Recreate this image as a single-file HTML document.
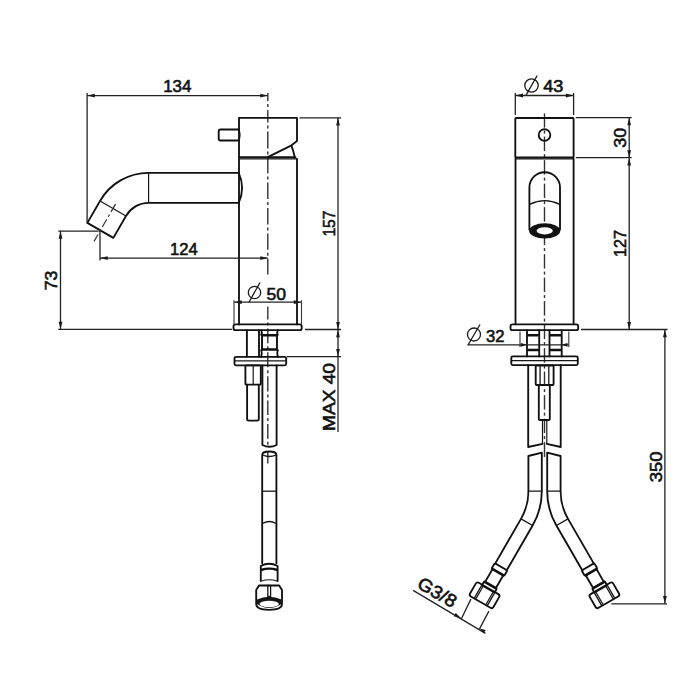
<!DOCTYPE html>
<html><head><meta charset="utf-8"><style>
html,body{margin:0;padding:0;background:#fff;width:700px;height:700px;overflow:hidden}
svg{display:block}
.o{fill:none;stroke:#111;stroke-width:1.85;stroke-linejoin:round;stroke-linecap:round}
.o2{fill:none;stroke:#161616;stroke-width:1.2}
.o3{fill:none;stroke:#161616;stroke-width:1.3}
.band{fill:none;stroke:#111;stroke-width:2.4}
.d{fill:none;stroke:#222;stroke-width:1.3}
.cs{fill:none;stroke:#333;stroke-width:1.4}
.d2{fill:none;stroke:#333;stroke-width:1.1}
.dt{fill:none;stroke:#1a1a1a;stroke-width:1.3}
.c{fill:none;stroke:#3a3a3a;stroke-width:1.3;stroke-dasharray:14 4 3.5 4}
.c2{fill:none;stroke:#333;stroke-width:1.2;stroke-dasharray:9 3 2.5 3}
.a{fill:#1a1a1a;stroke:none}
text{font-family:"Liberation Sans",sans-serif;fill:#111;stroke:#111;stroke-width:0.6}
</style></head><body>
<svg width="700" height="700" viewBox="0 0 700 700">
<rect width="700" height="700" fill="#fff"/>
<line class="cs" x1="267.8" y1="93" x2="267.8" y2="101"/>
<line class="cs" x1="267.8" y1="104" x2="267.8" y2="107"/>
<line class="cs" x1="267.8" y1="110" x2="267.8" y2="122.5"/>
<line class="cs" x1="267.8" y1="125.5" x2="267.8" y2="128.5"/>
<line class="cs" x1="267.8" y1="131.5" x2="267.8" y2="148.4"/>
<line class="cs" x1="267.8" y1="151.4" x2="267.8" y2="154.4"/>
<line class="cs" x1="267.8" y1="157.4" x2="267.8" y2="173.4"/>
<line class="cs" x1="267.8" y1="176.4" x2="267.8" y2="179.4"/>
<line class="cs" x1="267.8" y1="182.4" x2="267.8" y2="198.9"/>
<line class="cs" x1="267.8" y1="201.9" x2="267.8" y2="204.9"/>
<line class="cs" x1="267.8" y1="207.9" x2="267.8" y2="224.6"/>
<line class="cs" x1="267.8" y1="227.6" x2="267.8" y2="230.6"/>
<line class="cs" x1="267.8" y1="233.6" x2="267.8" y2="249.7"/>
<line class="cs" x1="267.8" y1="252.7" x2="267.8" y2="255.7"/>
<line class="cs" x1="267.8" y1="258.7" x2="267.8" y2="274.4"/>
<line class="cs" x1="267.8" y1="306.4" x2="267.8" y2="319.4"/>
<line class="cs" x1="267.8" y1="322.4" x2="267.8" y2="325.4"/>
<line class="cs" x1="267.8" y1="328.4" x2="267.8" y2="343.3"/>
<line class="cs" x1="267.8" y1="346.3" x2="267.8" y2="349.3"/>
<line class="cs" x1="267.8" y1="352.3" x2="267.8" y2="367.2"/>
<line class="cs" x1="267.8" y1="370.2" x2="267.8" y2="373.2"/>
<line class="cs" x1="267.8" y1="376.2" x2="267.8" y2="391.6"/>
<line class="cs" x1="267.8" y1="394.6" x2="267.8" y2="397.6"/>
<line class="cs" x1="267.8" y1="400.6" x2="267.8" y2="415"/>
<line class="cs" x1="267.8" y1="418" x2="267.8" y2="421"/>
<line class="cs" x1="267.8" y1="424" x2="267.8" y2="438.7"/>
<line class="cs" x1="267.8" y1="441.7" x2="267.8" y2="444.7"/>
<line class="cs" x1="267.8" y1="452" x2="267.8" y2="463.5"/>
<path class="o" d="M239,157.5 V117.8 H297 V141 L291.5,145.3 L267.8,157.2"/>
<path class="o" d="M291.5,145.8 Q293.5,151 294.8,157.5"/>
<path class="o" d="M239,157.2 H295.5"/>
<line class="o2" x1="239" y1="158.9" x2="297" y2="158.9"/>
<path class="o" d="M239,158.8 V324.4"/>
<path class="o" d="M297,158.8 V324.4"/>
<path class="o" d="M239,129.5 H220.5 Q218.7,129.5 218.7,131.3 V138.7 Q218.7,140.5 220.5,140.5 H239"/>
<path class="o2" d="M239,129.8 Q241,135 239,140.2"/>
<path class="o" d="M238.7,172.9 H148.6 A56.1,56.1 0 0 0 100.02,200.95 L87.37,222.86 L113.35,237.86 L126,215.95 A26.1,26.1 0 0 1 148.6,202.9 H238.7"/>
<path class="o" d="M238.7,172.9 Q245.5,187.9 238.7,202.9"/>
<line class="o2" x1="148.6" y1="172.9" x2="148.6" y2="202.9"/>
<line class="o2" x1="100.02" y1="200.95" x2="126" y2="215.95"/>
<line class="c2" x1="115.51" y1="204.12" x2="94.01" y2="241.36"/>
<rect class="o" x="233.5" y="324.4" width="68.2" height="5.8" rx="2"/>
<path class="o" d="M261.2,330.2 Q262.4,332.5 261.2,335 M277.8,330.2 Q276.6,332.5 277.8,335 M261.2,350 Q262.4,353 261.2,356.8 M277.8,350 Q276.6,353 277.8,356.8 M262,335 V350 M277,335 V350"/>
<path class="band" d="M261.8,335.2 H277 M261.8,349.5 H277"/>
<path class="o2" d="M262.2,336.2 V348.5 M276.6,336.2 V348.5"/>
<path class="o" d="M246.9,330.2 V356.8 M259,330.2 V356.8"/>
<rect class="o" x="234.5" y="356.8" width="51.7" height="8.5" rx="1.5"/>
<line class="o3" x1="235" y1="360.8" x2="285.7" y2="360.8"/>
<rect class="o" x="245.4" y="365.3" width="15.4" height="19.4" rx="1"/>
<line class="o2" x1="253.2" y1="365.3" x2="253.2" y2="384.7"/>
<path class="o" d="M247.1,384.7 V419 Q247.1,420.6 249,420.6 H257 Q258.8,420.6 258.8,419 V384.7"/>
<path class="o" d="M262.4,365.3 V445 Q269.5,448.5 276.6,445 V365.3"/>
<path class="o" d="M262.2,563.5 V455 Q262.2,451.5 269.3,451.5 Q276.4,451.5 276.4,455 V563.5"/>
<path class="o3" d="M262.5,455 Q269.3,458 276.1,455"/>
<line class="o3" x1="262.2" y1="491.2" x2="276.4" y2="491.2"/>
<path class="o3" d="M262.5,523.5 Q269.3,519.5 276.1,523.5"/>
<path class="o" d="M260.8,581 V566 Q269.2,561.5 277.6,566 V581"/>
<path class="band" d="M261,570 Q269.2,567.2 277.4,570"/>
<path class="o2" d="M261.3,581 Q269.2,578.5 277.1,581"/>
<path class="o" d="M256.2,590 L259,585.5 H279.2 L282,590 V604 Q282,609.8 269.1,609.8 Q256.2,609.8 256.2,604 Z"/>
<path d="M257,599.5 Q269.2,594.2 281.4,599.5 L281.4,604 Q269.2,612 257,604 Z" fill="#151515"/>
<ellipse cx="269.2" cy="604" rx="9.7" ry="3.3" fill="#fff"/>
<rect class="o3" x="267.8" y="585.5" width="2.8" height="11" rx="0"/>
<line class="d" x1="87.1" y1="93" x2="87.1" y2="222.9"/>
<line class="d" x1="87.1" y1="95.6" x2="267.8" y2="95.6"/>
<path class="a" d="M87.3,95.6 L94.8,93.7 L94.8,97.5 Z"/>
<path class="a" d="M267.8,95.6 L260.3,97.5 L260.3,93.7 Z"/>
<text x="177.3" y="92.2" font-size="17" text-anchor="middle" textLength="28.3" lengthAdjust="spacingAndGlyphs">134</text>
<line class="d" x1="100" y1="231" x2="100" y2="260.5"/>
<line class="d" x1="100" y1="258.1" x2="267.8" y2="258.1"/>
<path class="a" d="M100.2,258.1 L107.7,256.2 L107.7,260 Z"/>
<path class="a" d="M267.8,258.1 L260.3,260 L260.3,256.2 Z"/>
<text x="183.9" y="255" font-size="17" text-anchor="middle" textLength="27.6" lengthAdjust="spacingAndGlyphs">124</text>
<line class="d" x1="58.3" y1="231.1" x2="98.6" y2="231.1"/>
<line class="d" x1="58.3" y1="329.4" x2="232" y2="329.4"/>
<line class="d" x1="60.5" y1="231.1" x2="60.5" y2="329.4"/>
<path class="a" d="M60.5,231.3 L62.4,238.8 L58.6,238.8 Z"/>
<path class="a" d="M60.5,329.2 L58.6,321.7 L62.4,321.7 Z"/>
<text x="57.1" y="280.5" font-size="17" text-anchor="middle" textLength="19.7" lengthAdjust="spacingAndGlyphs" transform="rotate(-90 57.1 280.5)">73</text>
<line class="d" x1="299.5" y1="117.8" x2="341" y2="117.8"/>
<line class="d" x1="305" y1="329.5" x2="341" y2="329.5"/>
<line class="d" x1="338" y1="117.8" x2="338" y2="432"/>
<path class="a" d="M338,118 L339.9,125.5 L336.1,125.5 Z"/>
<path class="a" d="M338,329.5 L336.1,322 L339.9,322 Z"/>
<text x="334.7" y="223.6" font-size="17" text-anchor="middle" textLength="26" lengthAdjust="spacingAndGlyphs" transform="rotate(-90 334.7 223.6)">157</text>
<line class="d" x1="287" y1="356.6" x2="341" y2="356.6"/>
<path class="a" d="M338,329.7 L339.9,337.2 L336.1,337.2 Z"/>
<path class="a" d="M338,356.6 L336.1,349.1 L339.9,349.1 Z"/>
<text x="335" y="397" font-size="17" text-anchor="middle" textLength="68" lengthAdjust="spacingAndGlyphs" transform="rotate(-90 335 397)">MAX 40</text>
<line class="d" x1="234" y1="302.2" x2="301.5" y2="302.2"/>
<line class="d2" x1="234" y1="300.3" x2="234" y2="324"/>
<line class="d2" x1="301.5" y1="300.3" x2="301.5" y2="324"/>
<path class="a" d="M234.2,302.2 L241.7,300.3 L241.7,304.1 Z"/>
<path class="a" d="M301.3,302.2 L293.8,304.1 L293.8,300.3 Z"/>
<circle class="dt" cx="254.5" cy="292.5" r="6.2"/>
<line class="dt" x1="249" y1="302.2" x2="260" y2="282.5"/>
<text x="266.5" y="299.5" font-size="17" text-anchor="start" textLength="19.5" lengthAdjust="spacingAndGlyphs">50</text>
<line class="cs" x1="544.5" y1="113.4" x2="544.5" y2="127.6"/>
<line class="cs" x1="544.5" y1="130.6" x2="544.5" y2="133.6"/>
<line class="cs" x1="544.5" y1="136.6" x2="544.5" y2="151.1"/>
<line class="cs" x1="544.5" y1="154.1" x2="544.5" y2="157.1"/>
<line class="cs" x1="544.5" y1="160.1" x2="544.5" y2="174.6"/>
<line class="cs" x1="544.5" y1="177.6" x2="544.5" y2="180.6"/>
<line class="cs" x1="544.5" y1="183.6" x2="544.5" y2="198.1"/>
<line class="cs" x1="544.5" y1="201.1" x2="544.5" y2="204.1"/>
<line class="cs" x1="544.5" y1="207.1" x2="544.5" y2="221.6"/>
<line class="cs" x1="544.5" y1="224.6" x2="544.5" y2="227.6"/>
<line class="cs" x1="544.5" y1="230.6" x2="544.5" y2="245.1"/>
<line class="cs" x1="544.5" y1="248.1" x2="544.5" y2="251.1"/>
<line class="cs" x1="544.5" y1="254.1" x2="544.5" y2="268.6"/>
<line class="cs" x1="544.5" y1="271.6" x2="544.5" y2="274.6"/>
<line class="cs" x1="544.5" y1="277.6" x2="544.5" y2="292.1"/>
<line class="cs" x1="544.5" y1="295.1" x2="544.5" y2="298.1"/>
<line class="cs" x1="544.5" y1="301.1" x2="544.5" y2="315.6"/>
<line class="cs" x1="544.5" y1="318.6" x2="544.5" y2="321.6"/>
<line class="cs" x1="544.5" y1="324.6" x2="544.5" y2="339.1"/>
<line class="cs" x1="544.5" y1="342.1" x2="544.5" y2="345.1"/>
<line class="cs" x1="544.5" y1="348.1" x2="544.5" y2="362.6"/>
<line class="cs" x1="544.5" y1="365.6" x2="544.5" y2="368.6"/>
<line class="cs" x1="544.5" y1="371.6" x2="544.5" y2="386.1"/>
<line class="cs" x1="544.5" y1="389.1" x2="544.5" y2="392.1"/>
<line class="cs" x1="544.5" y1="395.1" x2="544.5" y2="409.6"/>
<line class="cs" x1="544.5" y1="412.6" x2="544.5" y2="415.6"/>
<line class="cs" x1="544.5" y1="418.6" x2="544.5" y2="433.1"/>
<line class="cs" x1="544.5" y1="436.1" x2="544.5" y2="439.1"/>
<line class="cs" x1="544.5" y1="442.1" x2="544.5" y2="457"/>
<rect class="o" x="515.3" y="118" width="58.3" height="39.5" rx="0.8"/>
<circle class="o" cx="544.5" cy="135" r="5.8"/>
<line class="o2" x1="515.5" y1="158.8" x2="573.6" y2="158.8"/>
<path class="o" d="M515.5,158.7 V324.3 M573.6,158.7 V324.3"/>
<path class="o" d="M529.4,229.5 V187.5 A15.3,15.3 0 0 1 560,187.5 V229.5"/>
<path class="o3" d="M529.6,204.4 Q544.7,197 559.8,204.4"/>
<ellipse cx="544.7" cy="230.8" rx="15.6" ry="7.6" fill="#111"/>
<ellipse cx="544.7" cy="230.8" rx="8.1" ry="3.6" fill="#fff"/>
<rect class="o" x="510.5" y="324.3" width="67.7" height="5.9" rx="2"/>
<path class="o" d="M527,330.2 V356.4 M539.2,330.2 V356.4 M549.5,330.2 V356.4 M561.7,330.2 V356.4"/>
<path class="band" d="M527.3,335.3 H538.9 M549.8,335.3 H561.4 M527.3,350 H538.9 M549.8,350 H561.4"/>
<rect class="o" x="511.3" y="356.4" width="66.5" height="8.7" rx="1.5"/>
<line class="o3" x1="512" y1="360.6" x2="577.2" y2="360.6"/>
<rect class="o" x="535.7" y="365.5" width="17.9" height="19.5" rx="1"/>
<line class="o3" x1="540.1" y1="365.5" x2="540.1" y2="385"/>
<line class="o3" x1="548.8" y1="365.5" x2="548.8" y2="385"/>
<rect class="o" x="538.8" y="385" width="11" height="35" rx="1"/>
<line class="o2" x1="542.5" y1="420" x2="542.5" y2="444"/>
<line class="o2" x1="546.8" y1="420" x2="546.8" y2="444"/>
<path class="o" d="M528.2,365.1 V447 L542.5,443.8"/>
<path class="o" d="M560.7,365.1 V447 L546.8,443.8"/>
<path class="o" d="M528.4,456 V491.2 A55.3,55.3 0 0 1 520.99,518.85 L494.99,563.88 M541.8,452.6 V491.2 A68.7,68.7 0 0 1 532.6,525.55 L506.6,570.58 M528.4,456 L541.8,452.6"/>
<path class="o3" d="M528.4,491.2 H541.8 M520.99,518.85 L532.6,525.55"/>
<path class="o" d="M560.6,456 V491.2 A55.3,55.3 0 0 0 568.01,518.85 L594.01,563.88 M547.2,452.6 V491.2 A68.7,68.7 0 0 0 556.4,525.55 L582.4,570.58 M560.6,456 L547.2,452.6"/>
<path class="o3" d="M560.6,491.2 H547.2 M568.01,518.85 L556.4,525.55"/>
<g transform="translate(500.79 567.23) rotate(30)"><rect class="o" x="-7.3" y="-0.5" width="14.6" height="6.5" rx="1.5"/><path class="band" d="M-7,5.6 H7 M-7,20.9 H7"/><path class="o" d="M-6.2,6 V20.5 M6.2,6 V20.5"/><rect class="o" x="-7.3" y="20.3" width="14.6" height="4.7" rx="1.2"/><rect class="o" x="-13.5" y="24.5" width="27" height="15.8" rx="2.2"/><path class="o3" d="M-7.5,25 V40 M-5.8,25 V40 M5.8,25 V40 M7.5,25 V40"/></g>
<g transform="translate(588.21 567.23) rotate(-30)"><rect class="o" x="-7.3" y="-0.5" width="14.6" height="6.5" rx="1.5"/><path class="band" d="M-7,5.6 H7 M-7,20.9 H7"/><path class="o" d="M-6.2,6 V20.5 M6.2,6 V20.5"/><rect class="o" x="-7.3" y="20.3" width="14.6" height="4.7" rx="1.2"/><rect class="o" x="-13.5" y="24.5" width="27" height="15.8" rx="2.2"/><path class="o3" d="M-7.5,25 V40 M-5.8,25 V40 M5.8,25 V40 M7.5,25 V40"/></g>
<line class="d" x1="515.3" y1="93" x2="515.3" y2="115"/>
<line class="d" x1="573.6" y1="93" x2="573.6" y2="115"/>
<line class="d" x1="515.3" y1="95.5" x2="573.6" y2="95.5"/>
<path class="a" d="M515.5,95.5 L523,93.6 L523,97.4 Z"/>
<path class="a" d="M573.4,95.5 L565.9,97.4 L565.9,93.6 Z"/>
<circle class="dt" cx="531.5" cy="85.5" r="6.7"/>
<line class="dt" x1="526.2" y1="94.9" x2="537.2" y2="75.5"/>
<text x="543.2" y="91.9" font-size="17" text-anchor="start" textLength="20.1" lengthAdjust="spacingAndGlyphs">43</text>
<line class="d" x1="575.8" y1="117.6" x2="631.7" y2="117.6"/>
<line class="d" x1="575.8" y1="157.7" x2="631.7" y2="157.7"/>
<line class="d" x1="629.2" y1="117.6" x2="629.2" y2="329.6"/>
<path class="a" d="M629.2,117.8 L631.1,125.3 L627.3,125.3 Z"/>
<path class="a" d="M629.2,157.7 L627.3,150.2 L631.1,150.2 Z"/>
<path class="a" d="M629.2,157.9 L631.1,165.4 L627.3,165.4 Z"/>
<path class="a" d="M629.2,329.4 L627.3,321.9 L631.1,321.9 Z"/>
<text x="626.2" y="137.7" font-size="17" text-anchor="middle" textLength="20" lengthAdjust="spacingAndGlyphs" transform="rotate(-90 626.2 137.7)">30</text>
<text x="626.4" y="243.6" font-size="17" text-anchor="middle" textLength="27" lengthAdjust="spacingAndGlyphs" transform="rotate(-90 626.4 243.6)">127</text>
<line class="d" x1="581" y1="329.5" x2="667.5" y2="329.5"/>
<line class="d" x1="611.4" y1="603.8" x2="667" y2="603.8"/>
<line class="d" x1="664.9" y1="329.5" x2="664.9" y2="603.8"/>
<path class="a" d="M664.9,329.7 L666.8,337.2 L663,337.2 Z"/>
<path class="a" d="M664.9,603.6 L663,596.1 L666.8,596.1 Z"/>
<text x="662.1" y="466.8" font-size="17" text-anchor="middle" textLength="30.9" lengthAdjust="spacingAndGlyphs" transform="rotate(-90 662.1 466.8)">350</text>
<line class="d" x1="467.5" y1="344.8" x2="568.8" y2="344.8"/>
<line class="d2" x1="520" y1="331.5" x2="520" y2="347"/>
<line class="d2" x1="568.8" y1="331.5" x2="568.8" y2="347"/>
<path class="a" d="M526.8,344.8 L520.8,346.7 L520.8,342.9 Z"/>
<path class="a" d="M561.5,344.8 L567.5,342.9 L567.5,346.7 Z"/>
<circle class="dt" cx="474" cy="334.5" r="6.5"/>
<line class="dt" x1="468" y1="345" x2="480" y2="324.5"/>
<text x="486" y="342" font-size="17" text-anchor="start" textLength="18.5" lengthAdjust="spacingAndGlyphs">32</text>
<line class="d" x1="413.1" y1="590.4" x2="485.4" y2="633.4"/>
<line class="d" x1="470.9" y1="599.1" x2="461.4" y2="618.8"/>
<line class="d" x1="488.9" y1="611.1" x2="479.4" y2="629.1"/>
<path class="a" d="M461.2,618.3 L453.76,616.17 L455.67,612.89 Z"/>
<path class="a" d="M479.6,628.6 L485.74,629.98 L483.83,633.26 Z"/>
<text x="416" y="587" font-size="18" text-anchor="start" textLength="42" lengthAdjust="spacingAndGlyphs" transform="rotate(30.5 416 587)">G3/8</text>
</svg></body></html>
